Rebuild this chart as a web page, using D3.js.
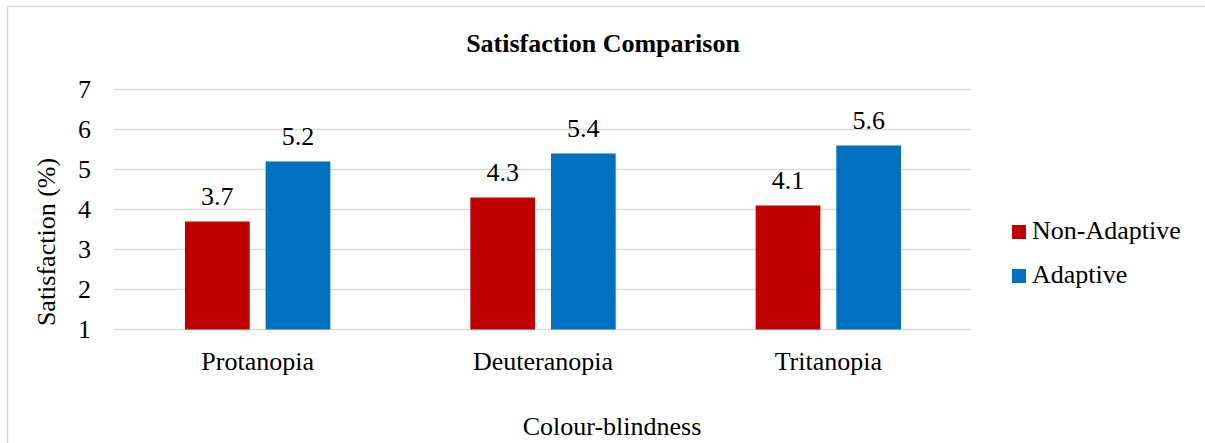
<!DOCTYPE html>
<html>
<head>
<meta charset="utf-8">
<script src="https://cdn.jsdelivr.net/npm/d3@7/dist/d3.min.js"></script>
<style>
  html, body { margin: 0; padding: 0; background: #fff; }
  svg { display: block; }
  svg text { font-family: "Liberation Serif", "Times New Roman", Times, serif; }
</style>
</head>
<body>
<svg id="chart" width="1205" height="443"></svg>
<script>
// Chart data
const categories = ["Protanopia", "Deuteranopia", "Tritanopia"];
const seriesNames = ["Non-Adaptive", "Adaptive"];
const nonAdaptive = [3.7, 4.3, 4.1];
const adaptive = [5.2, 5.4, 5.6];
const yTicks = [1, 2, 3, 4, 5, 6, 7];
const seriesColors = ["#C00000", "#0070C0"];

const seriesValues = [nonAdaptive, adaptive];
const FONT = "Liberation Serif";

const svg = d3.select("#chart");
const W = 1205, H = 443;

// Outer chart-area frame
svg.append("rect")
  .attr("x", 7.5).attr("y", 6.5)
  .attr("width", W + 10).attr("height", H + 10)
  .attr("fill", "#fff")
  .attr("stroke", "#d9d9d9").attr("stroke-width", 1.5);

const plot = { left: 115, right: 971, top: 89.5, bottom: 329.5 };

const x0 = d3.scaleBand()
  .domain(categories)
  .range([plot.left, plot.right])
  .paddingInner(0).paddingOuter(0);

const x1 = d3.scaleBand()
  .domain(seriesNames)
  .range([70, x0.bandwidth() - 70])
  .paddingInner(0.1975).paddingOuter(0);

const y = d3.scaleLinear()
  .domain([1, 7])
  .range([plot.bottom, plot.top]);

// Horizontal gridlines
svg.append("g")
  .selectAll("line")
  .data(yTicks)
  .join("line")
  .attr("x1", plot.left).attr("x2", plot.right)
  .attr("y1", d => y(d)).attr("y2", d => y(d))
  .attr("stroke", "#d9d9d9").attr("stroke-width", 1.5);

// Y tick labels
svg.append("g")
  .selectAll("text")
  .data(yTicks)
  .join("text")
  .attr("x", 91)
  .attr("y", d => y(d))
  .attr("dy", "0.34em")
  .attr("text-anchor", "end")
  .attr("font-family", FONT)
  .attr("font-size", 26)
  .attr("fill", "#000")
  .text(d => d);

// Bars
const groups = svg.append("g")
  .selectAll("g")
  .data(categories)
  .join("g")
  .attr("transform", c => `translate(${x0(c)},0)`);

groups.selectAll("rect")
  .data((c, i) => seriesNames.map((s, k) => ({ s, v: seriesValues[k][i], k })))
  .join("rect")
  .attr("x", d => x1(d.s))
  .attr("width", x1.bandwidth())
  .attr("y", d => y(d.v))
  .attr("height", d => y(1) - y(d.v))
  .attr("fill", d => seriesColors[d.k]);

// Value labels
groups.selectAll("text")
  .data((c, i) => seriesNames.map((s, k) => ({ s, v: seriesValues[k][i], k })))
  .join("text")
  .attr("x", d => x1(d.s) + x1.bandwidth() / 2)
  .attr("y", d => y(d.v) - 17)
  .attr("text-anchor", "middle")
  .attr("font-family", FONT)
  .attr("font-size", 26)
  .attr("fill", "#000")
  .text(d => d3.format(".1f")(d.v));

// Category labels
svg.append("g")
  .selectAll("text")
  .data(categories)
  .join("text")
  .attr("x", c => x0(c) + x0.bandwidth() / 2)
  .attr("y", 370)
  .attr("text-anchor", "middle")
  .attr("font-family", FONT)
  .attr("font-size", 26)
  .attr("fill", "#000")
  .text(c => c);

// Title
svg.append("text")
  .attr("x", 603).attr("y", 52)
  .attr("text-anchor", "middle")
  .attr("font-family", FONT)
  .attr("font-size", 26)
  .attr("font-weight", "bold")
  .attr("fill", "#000")
  .text("Satisfaction Comparison");

// Axis titles
svg.append("text")
  .attr("transform", "translate(55,242) rotate(-90)")
  .attr("text-anchor", "middle")
  .attr("font-family", FONT)
  .attr("font-size", 26)
  .attr("fill", "#000")
  .text("Satisfaction (%)");

svg.append("text")
  .attr("x", 612).attr("y", 435)
  .attr("text-anchor", "middle")
  .attr("font-family", FONT)
  .attr("font-size", 26)
  .attr("fill", "#000")
  .text("Colour-blindness");

// Legend
const legend = svg.append("g")
  .selectAll("g")
  .data(seriesNames)
  .join("g")
  .attr("transform", (d, i) => `translate(1012,${225 + i * 44})`);

legend.append("rect")
  .attr("width", 14).attr("height", 14)
  .attr("fill", (d, i) => seriesColors[i]);

legend.append("text")
  .attr("x", 20).attr("y", 14)
  .attr("font-family", FONT)
  .attr("font-size", 26)
  .attr("fill", "#000")
  .text(d => d);
</script>
</body>
</html>
